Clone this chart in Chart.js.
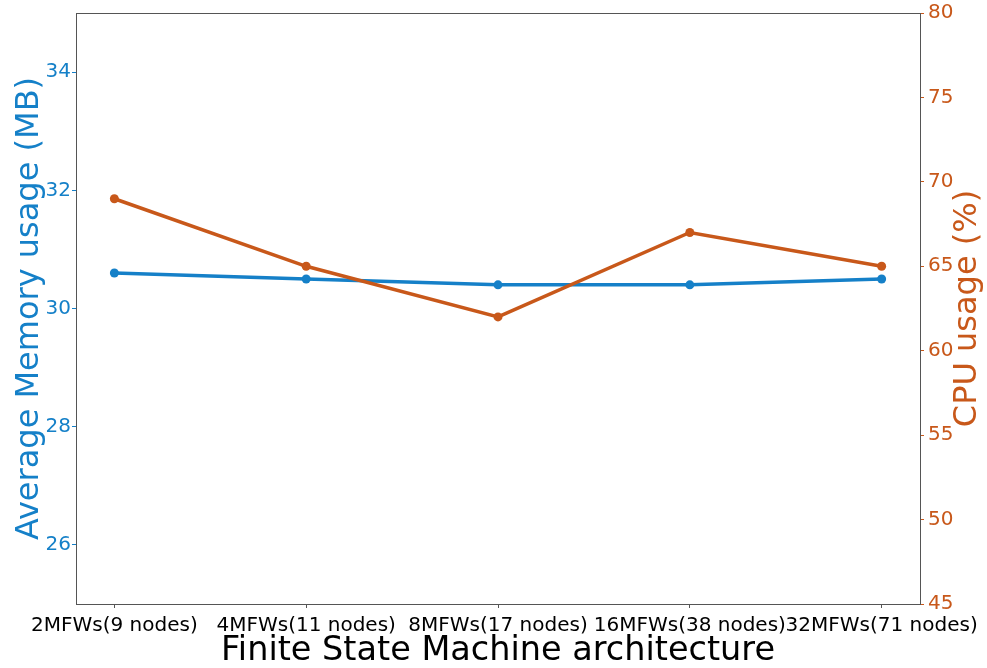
<!DOCTYPE html>
<html><head><meta charset="utf-8">
<script src="https://cdn.jsdelivr.net/npm/chart.js@4/dist/chart.umd.min.js"></script>
<style>html,body{margin:0;padding:0;background:#fff}canvas{display:block}</style>
</head><body>
<canvas id="c" width="987" height="668"></canvas>
<script>
const categories = ["2MFWs(9 nodes)", "4MFWs(11 nodes)", "8MFWs(17 nodes)", "16MFWs(38 nodes)", "32MFWs(71 nodes)"];
const memoryMB = [30.6, 30.5, 30.4, 30.4, 30.5];
const cpuPct = [69, 65, 62, 67, 65];
const memTicks = [26, 28, 30, 32, 34];
const cpuTicks = [45, 50, 55, 60, 65, 70, 75, 80];
const rightTitle = 'CPU usage (%)';

const BLUE = '#1580c8';
const ORANGE = '#c8581a';
const FONT = 'DejaVu Sans';

const frame = {
  id: 'frame',
  afterDatasetsDraw(chart) {
    const a = chart.chartArea, ctx = chart.ctx;
    ctx.save();
    ctx.strokeStyle = '#555';
    ctx.lineWidth = 1;
    ctx.strokeRect(Math.round(a.left) + 0.5, Math.round(a.top) + 0.5, Math.round(a.right - a.left), Math.round(a.bottom - a.top));
    // right axis title, reading bottom-to-top
    ctx.translate(968, (a.top + a.bottom) / 2);
    ctx.rotate(-Math.PI / 2);
    ctx.fillStyle = ORANGE;
    ctx.font = '32px "' + FONT + '"';
    ctx.textAlign = 'center';
    ctx.textBaseline = 'middle';
    ctx.fillText(rightTitle, 0, 0);
    ctx.restore();
  }
};

function fitY(width) {
  return s => { s.width = width; s.paddingTop = 0; s.paddingBottom = 0; };
}

new Chart(document.getElementById('c'), {
  type: 'line',
  data: {
    datasets: [
      {
        label: 'Memory',
        data: memoryMB.map((v, i) => ({x: i, y: v})),
        yAxisID: 'y',
        borderColor: BLUE, backgroundColor: BLUE,
        borderWidth: 3.5, pointRadius: 4.5, pointBorderWidth: 0,
        order: 1
      },
      {
        label: 'CPU',
        data: cpuPct.map((v, i) => ({x: i, y: v})),
        yAxisID: 'y1',
        borderColor: ORANGE, backgroundColor: ORANGE,
        borderWidth: 3.5, pointRadius: 4.5, pointBorderWidth: 0,
        order: 0
      }
    ]
  },
  options: {
    responsive: false,
    animation: false,
    devicePixelRatio: 1,
    layout: {padding: {top: 13, left: 0, right: 0, bottom: 0}},
    plugins: {legend: {display: false}, tooltip: {enabled: false}},
    scales: {
      x: {
        type: 'linear', min: -0.2, max: 4.2,
        afterBuildTicks: s => { s.ticks = categories.map((c, i) => ({value: i})); },
        afterFit: s => { s.height = 64; s.paddingLeft = 0; s.paddingRight = 0; },
        grid: {drawOnChartArea: false, drawTicks: true, tickLength: 4, color: '#555'},
        border: {display: false},
        ticks: {
          callback: v => categories[v],
          color: '#000', font: {family: FONT, size: 20}, padding: 6,
          maxRotation: 0, autoSkip: false
        },
        title: {display: true, text: 'Finite State Machine architecture', color: '#000',
          font: {family: FONT, size: 33.5, lineHeight: 1}, padding: {top: 0, bottom: 0}}
      },
      y: {
        position: 'left', min: 25, max: 35,
        afterBuildTicks: s => { s.ticks = memTicks.map(v => ({value: v})); },
        afterFit: fitY(76),
        grid: {drawOnChartArea: false, drawTicks: true, tickLength: 4, color: BLUE},
        border: {display: false},
        ticks: {color: BLUE, font: {family: FONT, size: 20}, padding: 1},
        title: {display: true, text: 'Average Memory usage (MB)', color: BLUE,
          font: {family: FONT, size: 32, lineHeight: 1}, padding: {top: 14, bottom: 0}}
      },
      y1: {
        position: 'right', min: 45, max: 80,
        afterBuildTicks: s => { s.ticks = cpuTicks.map(v => ({value: v})); },
        afterFit: fitY(67),
        grid: {drawOnChartArea: false, drawTicks: true, tickLength: 4, color: ORANGE},
        border: {display: false},
        ticks: {color: ORANGE, font: {family: FONT, size: 20}, padding: 4}
      }
    }
  },
  plugins: [frame]
});
</script>
</body></html>
